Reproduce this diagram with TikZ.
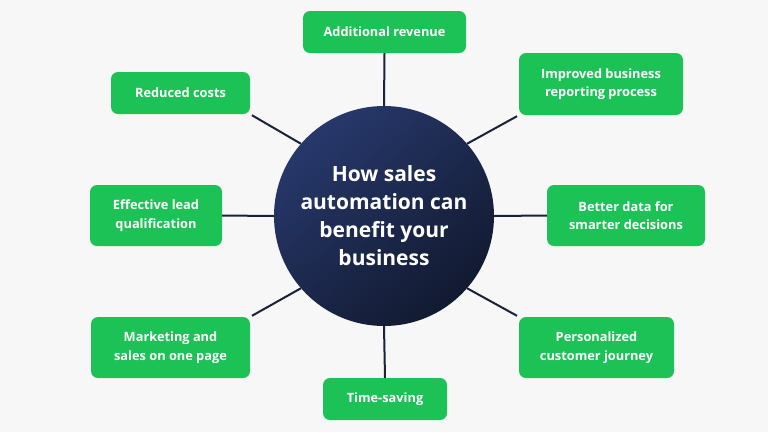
\documentclass[tikz,border=0pt]{standalone}
\usepackage{fontspec}
\setmainfont{Open Sans}
\usetikzlibrary{positioning,backgrounds}
\definecolor{PageBg}{HTML}{F7F7F8}
\definecolor{LeafGreen}{HTML}{1DC257}
\definecolor{HubTop}{HTML}{27386B}
\definecolor{HubBot}{HTML}{121A30}
\definecolor{Spoke}{HTML}{1A2238}

\begin{document}
\begin{tikzpicture}[x=1pt, y=-1pt,
    leaf/.style={fill=LeafGreen, rounded corners=7pt, text=white, align=center,
      inner sep=0pt, font=\fontsize{12.8}{18.5}\selectfont\bfseries},
    spoke/.style={Spoke, line width=2pt}]
  \useasboundingbox (0,0) rectangle (768,432);
  % hub in the middle
  \node[circle, minimum size=220pt, top color=HubTop, bottom color=HubBot,
    shading angle=40, text=white, align=center,
    font=\fontsize{21}{28}\selectfont\bfseries] (hub) at (384,216)
    {How sales\\automation can\\benefit your\\business};
  % the eight benefits
  \node[leaf, minimum width=163pt, minimum height=42pt] (revenue) at (384.5,32) {Additional revenue};
  \node[leaf, minimum width=139pt, minimum height=42pt] (costs) at (180.5,93) {Reduced costs};
  \node[leaf, minimum width=164pt, minimum height=62pt] (reporting) at (601,84) {Improved business\\reporting process};
  \node[leaf, minimum width=132pt, minimum height=61pt] (leads) at (156,215.5) {Effective lead\\qualification};
  \node[leaf, minimum width=158pt, minimum height=61pt] (data) at (626,215.5) {Better data for\\smarter decisions};
  \node[leaf, minimum width=159pt, minimum height=61pt] (onepage) at (170.5,347.5) {Marketing and\\sales on one page};
  \node[leaf, minimum width=155pt, minimum height=61pt] (journey) at (596.5,347.5) {Personalized\\customer journey};
  \node[leaf, minimum width=124pt, minimum height=42pt] (timesave) at (385,399) {Time-saving};
  % spokes sit behind everything
  \begin{scope}[on background layer]
    \fill[PageBg] (0,0) rectangle (768,432);
    \draw[spoke] (hub.north) -- (revenue.south);
    \draw[spoke] (hub.south) -- (timesave.north);
    \draw[spoke] (hub.west) -- (leads.east);
    \draw[spoke] (hub.east) -- (data.west);
    \draw[spoke, shorten >=2pt] (hub.139) -- (costs.south east);
    \draw[spoke, shorten >=2pt] (hub.41) -- (reporting.south west);
    \draw[spoke, shorten >=2pt] (hub.221) -- (onepage.north east);
    \draw[spoke, shorten >=2pt] (hub.319) -- (journey.north west);
  \end{scope}
\end{tikzpicture}
\end{document}
